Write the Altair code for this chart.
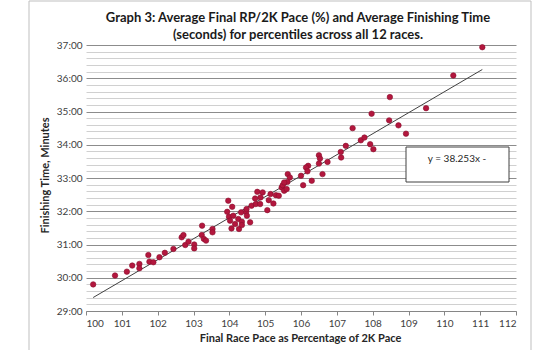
import altair as alt
import pandas as pd

pace_pct = [100.20, 100.81, 101.14, 101.29, 101.49, 101.49, 101.74, 101.77, 101.88, 102.05,
            102.20, 102.44, 102.67, 102.72, 102.77, 102.86, 103.02, 103.02, 103.24, 103.23,
            103.29, 103.35, 103.53, 103.53, 103.97, 103.94, 104.08, 103.99, 104.02, 104.06,
            104.16, 104.11, 104.27, 104.25, 104.35, 104.35, 104.33, 104.47, 104.49, 104.48,
            104.58, 104.62, 104.74, 104.72, 104.78, 104.86, 104.93, 104.87, 105.06, 105.10,
            105.15, 105.23, 105.30, 105.38, 105.46, 105.49, 105.53, 105.60, 105.63, 105.62,
            105.69, 105.53, 106.00, 106.06, 106.20, 106.14, 106.18, 106.30, 106.50, 106.53,
            106.50, 106.60, 106.74, 107.11, 107.12, 107.25, 107.44, 107.67, 107.77, 107.93,
            108.02, 107.97, 108.46, 108.48, 108.72, 108.93, 109.49, 110.25, 111.06]
finish_min = [29.80, 30.06, 30.18, 30.36, 30.41, 30.28, 30.68, 30.48, 30.46, 30.61,
              30.75, 30.86, 31.22, 31.29, 30.99, 31.08, 31.00, 30.89, 31.56, 31.28,
              31.16, 31.11, 31.46, 31.36, 32.31, 31.99, 32.14, 31.84, 31.71, 31.48,
              31.62, 31.87, 31.46, 31.76, 31.69, 31.59, 31.96, 31.99, 31.87, 32.07,
              31.66, 32.16, 32.22, 32.39, 32.59, 32.21, 32.56, 32.41, 32.04, 32.34,
              32.51, 32.24, 32.49, 32.46, 32.72, 32.79, 32.61, 32.66, 33.12, 32.89,
              33.02, 32.86, 33.06, 32.79, 33.36, 33.31, 33.20, 32.92, 33.69, 33.59,
              33.44, 33.11, 33.49, 33.79, 33.62, 33.97, 34.50, 34.14, 34.22, 34.01,
              33.86, 34.94, 34.73, 35.43, 34.59, 34.34, 35.10, 36.08, 36.93]

title_line1 = "Graph 3: Average Final RP/2K Pace (%) and Average Finishing Time"
title_line2 = "(seconds)  for percentiles across all 12 races."
x_title = "Final Race  Pace as Percentage of 2K Pace"
y_title = "Finishing Time, Minutes"
equation_label = "y = 38.253x -"
x_ticks = list(range(100, 113))

df = pd.DataFrame({"pct": pace_pct, "secs": [round(m * 60) for m in finish_min]})

FONT = "Lato"
y_vals = list(range(1740, 2221, 12))

x_scale = alt.Scale(domain=[100, 112], nice=False, zero=False)
y_scale = alt.Scale(domain=[1740, 2220], nice=False, zero=False)

base = alt.Chart(df)

points = base.mark_point(filled=True, size=30, color="#B3173E", opacity=1,
                         stroke="#8A0F2E", strokeWidth=0.6).encode(
    x=alt.X("pct:Q", scale=x_scale,
            axis=alt.Axis(values=x_ticks, tickCount=100, grid=False, title=x_title,
                          labelOverlap=False, format="d",
                          domainColor="#868686", tickColor="#868686", tickSize=4,
                          labelFont=FONT, labelFontSize=10, labelColor="#404040",
                          labelPadding=3,
                          titleFont=FONT, titleFontSize=11, titleFontWeight="bold",
                          titleColor="#262626", titleX=214, titleY=27,
                          titleBaseline="middle")),
    y=alt.Y("secs:Q", scale=y_scale,
            axis=alt.Axis(values=y_vals, tickCount=1000, domain=False, ticks=False,
                          labelOverlap=False,
                          labelExpr="datum.value % 60 == 0 ? floor(datum.value / 60) + ':00' : ''",
                          labelFont=FONT, labelFontSize=10, labelColor="#404040",
                          labelPadding=4,
                          gridColor={"condition": {"test": "datum.value % 60 == 0", "value": "#8C8C8C"},
                                     "value": "#D0D0D0"},
                          gridWidth=1,
                          title=y_title, titleFont=FONT, titleFontSize=11,
                          titleFontWeight="bold", titleColor="#262626",
                          titleX=-41, titleY=130, titleBaseline="middle")),
)

trend = base.transform_regression("pct", "secs").mark_line(
    color="#404040", strokeWidth=1).encode(
    x=alt.X("pct:Q", scale=x_scale), y=alt.Y("secs:Q", scale=y_scale))

one = alt.Data(values=[{}])
eq_box = alt.Chart(one).mark_rect(fill="white", stroke="#404040", strokeWidth=1).encode(
    x=alt.value(320), x2=alt.value(423), y=alt.value(102), y2=alt.value(137))
eq_text = alt.Chart(one).mark_text(text=equation_label, font=FONT, fontSize=10,
                                   color="#262626", align="center", baseline="middle").encode(
    x=alt.value(371), y=alt.value(114))
frame = alt.Chart(one).mark_rect(fill=None, stroke="#BFBFBF", strokeWidth=1).encode(
    x=alt.value(-57), x2=alt.value(445), y=alt.value(-44), y2=alt.value(320))
title_a = alt.Chart(one).mark_text(text=title_line1, font=FONT, fontSize=13,
                                   fontWeight="bold", color="#1a1a1a", align="center",
                                   baseline="middle").encode(
    x=alt.value(212), y=alt.value(-27))
title_b = alt.Chart(one).mark_text(text=title_line2, font=FONT, fontSize=13,
                                   fontWeight="bold", color="#1a1a1a", align="center",
                                   baseline="middle").encode(
    x=alt.value(212), y=alt.value(-10))

chart = alt.layer(frame, trend, points, eq_box, eq_text, title_a, title_b).properties(
    width=430, height=266,
    autosize=alt.AutoSizeParams(type="none"),
    padding={"left": 86, "top": 45, "right": 44, "bottom": 39},
    background="white",
).configure_view(stroke=None)

chart.save("out.html", embed_options={"renderer": "svg", "actions": False})
